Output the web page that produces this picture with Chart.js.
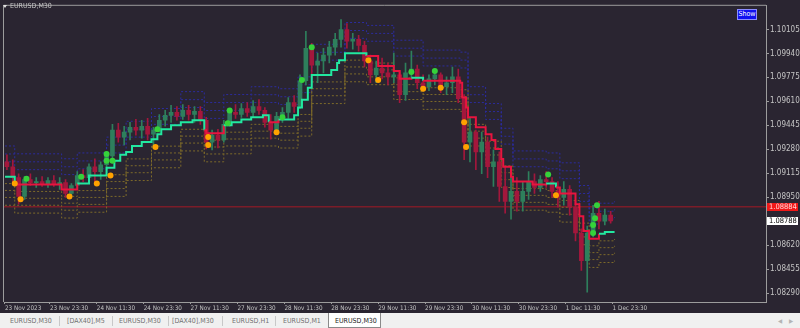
<!DOCTYPE html>
<html>
<head>
<meta charset="utf-8">
<script src="https://cdn.jsdelivr.net/npm/chart.js@4.4.0/dist/chart.umd.min.js"></script>
<style>
  html, body { margin: 0; padding: 0; background: #f0f0f0; }
  #wrap { position: relative; width: 800px; height: 328px; overflow: hidden;
          font-family: 'Liberation Sans Narrow', 'DejaVu Sans Condensed', 'Liberation Sans', sans-serif; }
  #chartBox { position: absolute; left: 0; top: 0; width: 800px; height: 313px; background: #2a2531; }
  #title { position: absolute; left: 10px; top: 2px; color: #c4c4c4; font-size: 7px; line-height: 8px; }
  #tri { position: absolute; left: 3px; top: 5px; width: 0; height: 0;
         border-left: 2.5px solid transparent; border-right: 2.5px solid transparent; border-top: 3px solid #e0e0e0; }
  #showBtn { position: absolute; left: 737px; top: 9px; width: 18px; height: 9px; background: #1010f0;
             border: 1px solid #8c8cff; color: #fff; font-size: 7px; line-height: 9px; text-align: center; }
  #tabs { position: absolute; left: 0; top: 313px; width: 800px; height: 15px; background: #f0f0f0; }
  .tab { position: absolute; top: 4px; font-size: 7px; line-height: 8px; color: #707070; white-space: nowrap; }
  .sep { position: absolute; top: 3px; width: 1px; height: 10px; background: #c8c8c8; }
  #active { position: absolute; left: 328px; top: 0; width: 51px; height: 14px; background: #fff;
            border: 1px solid #8a8a8a; border-top: none; }
  .arr { position: absolute; top: 4px; font-size: 6px; color: #b4b4b4; }
</style>
</head>
<body>
<div id="wrap">
  <div id="chartBox"><canvas id="myChart" width="800" height="313"></canvas></div>
  <div id="tri"></div>
  <div id="title">EURUSD,M30</div>
  <div id="showBtn">Show</div>
  <div id="tabs">
    <div id="active"></div>
    <div class="tab" style="left:10px">EURUSD,M30</div>
    <div class="sep" style="left:59px"></div>
    <div class="tab" style="left:67px">[DAX40],M5</div>
    <div class="sep" style="left:112px"></div>
    <div class="tab" style="left:119px">EURUSD,M30</div>
    <div class="sep" style="left:168px"></div>
    <div class="tab" style="left:172px">[DAX40],M30</div>
    <div class="sep" style="left:222px"></div>
    <div class="tab" style="left:232px">EURUSD,H1</div>
    <div class="sep" style="left:275px"></div>
    <div class="tab" style="left:283px">EURUSD,M1</div>
    <div class="tab" style="left:335px;color:#222">EURUSD,M30</div>
    <div class="arr" style="left:778px">&#9664;</div>
    <div class="arr" style="left:789px">&#9654;</div>
  </div>
</div>
<script>
const FONT = "'Liberation Sans Narrow', 'DejaVu Sans Condensed', 'Liberation Sans', sans-serif";

// x axis: M30 bar index, labels every 24 bars
const xTickBars = [0, 23, 47, 71, 95, 119, 143, 167, 191, 215, 239, 263, 287, 311];
const xTickLabels = ['23 Nov 2023', '23 Nov 23:30', '24 Nov 11:30', '24 Nov 23:30', '27 Nov 11:30',
  '27 Nov 23:30', '28 Nov 11:30', '28 Nov 23:30', '29 Nov 11:30', '29 Nov 23:30', '30 Nov 11:30',
  '30 Nov 23:30', '1 Dec 11:30', '1 Dec 23:30'];
const yTickValues = [1.10105, 1.09940, 1.09775, 1.09610, 1.09445, 1.09280, 1.09115,
  1.08950, 1.08620, 1.08455, 1.08290];

const bidPrice = 1.08884;
const lastPrice = 1.08788;

// candles (one per 3 bars)
const opens = [1.09194,1.09160,1.09085,1.08956,1.09072,1.09051,1.09058,1.09044,1.09065,1.09038,
  1.09051,1.08976,1.09031,1.09099,1.09085,1.09160,1.09126,1.09174,1.09235,1.09412,
  1.09364,1.09398,1.09432,1.09412,1.09439,1.09384,1.09412,1.09480,1.09514,1.09534,
  1.09507,1.09548,1.09520,1.09541,1.09480,1.09330,1.09378,1.09344,1.09452,1.09534,
  1.09520,1.09561,1.09534,1.09575,1.09548,1.09466,1.09412,1.09507,1.09534,1.09602,
  1.09575,1.09752,1.09976,1.09860,1.09888,1.09928,1.09983,1.10037,1.10105,1.10024,
  1.10037,1.09996,1.09888,1.09792,1.09840,1.09806,1.09779,1.09792,1.09656,1.09806,
  1.09833,1.09738,1.09711,1.09765,1.09792,1.09711,1.09738,1.09779,1.09629,1.09330,
  1.09398,1.09262,1.09330,1.09160,1.09194,1.09024,1.08922,1.08990,1.08922,1.08990,
  1.09058,1.09017,1.09072,1.09058,1.08990,1.08949,1.09004,1.08881,1.08704,1.08514,
  1.08704,1.08840,1.08786,1.08827];
const highs = [1.09242,1.09208,1.09112,1.09092,1.09112,1.09085,1.09092,1.09085,1.09099,1.09085,
  1.09072,1.09044,1.09126,1.09140,1.09180,1.09214,1.09194,1.09262,1.09452,1.09459,
  1.09439,1.09466,1.09486,1.09480,1.09493,1.09432,1.09520,1.09548,1.09582,1.09575,
  1.09588,1.09582,1.09575,1.09575,1.09500,1.09412,1.09418,1.09480,1.09561,1.09588,
  1.09595,1.09602,1.09616,1.09622,1.09568,1.09520,1.09534,1.09568,1.09636,1.09650,
  1.09792,1.10092,1.10010,1.09942,1.09976,1.10024,1.10078,1.10173,1.10146,1.10078,
  1.10064,1.10024,1.09928,1.09888,1.09908,1.09874,1.09942,1.09820,1.09874,1.09956,
  1.09860,1.09792,1.09792,1.09833,1.09806,1.09779,1.09847,1.09833,1.09656,1.09500,
  1.09412,1.09398,1.09364,1.09276,1.09262,1.09160,1.09112,1.09085,1.09058,1.09126,
  1.09112,1.09099,1.09126,1.09085,1.09058,1.09058,1.09031,1.08922,1.08732,1.08752,
  1.08895,1.08922,1.08868,1.08854];
const lows = [1.09140,1.09058,1.08902,1.08936,1.09031,1.09017,1.09024,1.09017,1.09024,1.09004,
  1.08949,1.08956,1.09017,1.09058,1.09072,1.09044,1.09072,1.09140,1.09208,1.09330,
  1.09310,1.09344,1.09378,1.09357,1.09344,1.09289,1.09398,1.09439,1.09466,1.09480,
  1.09486,1.09480,1.09466,1.09452,1.09282,1.09276,1.09289,1.09330,1.09439,1.09493,
  1.09500,1.09507,1.09500,1.09520,1.09432,1.09350,1.09384,1.09466,1.09493,1.09534,
  1.09561,1.09724,1.09772,1.09738,1.09806,1.09874,1.09928,1.09983,1.09976,1.09969,
  1.09956,1.09847,1.09738,1.09738,1.09765,1.09724,1.09738,1.09602,1.09616,1.09765,
  1.09697,1.09684,1.09684,1.09724,1.09670,1.09656,1.09670,1.09602,1.09208,1.09194,
  1.09140,1.09112,1.09085,1.09024,1.08922,1.08840,1.08800,1.08854,1.08854,1.08936,
  1.08976,1.08990,1.09017,1.08949,1.08881,1.08895,1.08827,1.08650,1.08446,1.08296,
  1.08677,1.08732,1.08759,1.08772];
const closes = [1.09160,1.09085,1.08956,1.09072,1.09051,1.09058,1.09044,1.09065,1.09038,1.09051,
  1.08976,1.09031,1.09099,1.09085,1.09160,1.09126,1.09174,1.09235,1.09412,1.09364,
  1.09398,1.09432,1.09412,1.09439,1.09384,1.09412,1.09480,1.09514,1.09534,1.09507,
  1.09548,1.09520,1.09541,1.09480,1.09330,1.09378,1.09344,1.09452,1.09534,1.09520,
  1.09561,1.09534,1.09575,1.09548,1.09466,1.09412,1.09507,1.09534,1.09602,1.09575,
  1.09752,1.09976,1.09860,1.09888,1.09928,1.09983,1.10037,1.10105,1.10024,1.10037,
  1.09996,1.09888,1.09792,1.09840,1.09806,1.09779,1.09792,1.09656,1.09806,1.09833,
  1.09738,1.09711,1.09765,1.09792,1.09711,1.09738,1.09779,1.09629,1.09330,1.09398,
  1.09262,1.09330,1.09160,1.09194,1.09024,1.08922,1.08990,1.08922,1.08990,1.09058,
  1.09017,1.09072,1.09058,1.08990,1.08949,1.09004,1.08881,1.08704,1.08514,1.08704,
  1.08840,1.08786,1.08827,1.08788];

// trend stop line (step points), 1 = up (green), 0 = down (red)
const trendBars = [0,5,29,37,43,52,56,59,62,65,70,75,78,80,85,90,96,102,103,112,116,121,126,132,135,
  140,148,150,152,155,157,167,170,171,174,185,191,199,202,208,214,233,234,236,237,241,246,249,251,254,
  255,259,260,270,277,282,284,292,294,296,299,304,307,312];
const trendVals = [1.09092,1.09038,1.09004,1.09044,1.09099,1.09153,1.09201,1.09242,1.09262,1.09303,
  1.09330,1.09350,1.09384,1.09418,1.09446,1.09466,1.09480,1.09412,1.09391,1.09446,
  1.09466,1.09486,1.09500,1.09514,1.09466,1.09486,1.09514,1.09568,1.09622,1.09704,
  1.09792,1.09826,1.09874,1.09894,1.09942,1.09922,1.09854,1.09820,1.09765,1.09772,
  1.09752,1.09738,1.09636,1.09568,1.09500,1.09432,1.09384,1.09344,1.09282,1.09214,
  1.09160,1.09092,1.09058,1.09038,1.09044,1.09017,1.08976,1.08902,1.08820,1.08718,
  1.08664,1.08698,1.08711,1.08711];
const trendUp = [1,0,0,1,1,1,1,1,1,1,1,1,1,1,1,1,1,0,0,1,1,1,1,1,0,1,1,1,1,1,1,1,1,1,1,
  0,0,0,0,1,0,0,0,0,0,0,0,0,0,0,0,0,0,0,1,0,0,0,0,0,0,1,1,1];

// dotted bands
const bandBars = [0,5,29,37,52,62,75,90,102,112,126,140,150,157,174,185,199,214,233,237,246,254,260,277,284,294,299,304,312];
const lower1 = [1.09044,1.08990,1.08956,1.08996,1.09105,1.09214,1.09302,1.09418,1.09343,1.09398,1.09452,1.09438,1.09520,1.09744,1.09894,
  1.09874,1.09772,1.09704,1.09690,1.09452,1.09336,1.09166,1.09010,1.08996,1.08928,1.08772,1.08616,1.08650,1.08663];
const lower2 = [1.08997,1.08943,1.08909,1.08949,1.09058,1.09167,1.09255,1.09371,1.09296,1.09351,1.09405,1.09391,1.09473,1.09697,1.09847,
  1.09827,1.09725,1.09657,1.09643,1.09405,1.09289,1.09119,1.08963,1.08949,1.08881,1.08725,1.08569,1.08603,1.08616];
const lower3 = [1.08949,1.08895,1.08861,1.08901,1.09010,1.09119,1.09207,1.09323,1.09248,1.09303,1.09357,1.09343,1.09425,1.09649,1.09799,
  1.09779,1.09677,1.09609,1.09595,1.09357,1.09241,1.09071,1.08915,1.08901,1.08833,1.08677,1.08521,1.08555,1.08568];
const lower4 = [1.08895,1.08841,1.08807,1.08847,1.08956,1.09065,1.09153,1.09269,1.09194,1.09249,1.09303,1.09289,1.09371,1.09595,1.09745,
  1.09725,1.09623,1.09555,1.09541,1.09303,1.09187,1.09017,1.08861,1.08847,1.08779,1.08623,1.08467,1.08501,1.08514];
const upper1 = [1.09194,1.09140,1.09106,1.09146,1.09255,1.09364,1.09452,1.09568,1.09493,1.09548,1.09602,1.09588,1.09670,1.09894,1.10044,
  1.10024,1.09922,1.09854,1.09840,1.09602,1.09486,1.09316,1.09160,1.09146,1.09078,1.08922,1.08766,1.08800,1.08813];
const upper2 = [1.09248,1.09194,1.09160,1.09200,1.09309,1.09418,1.09506,1.09622,1.09547,1.09602,1.09656,1.09642,1.09724,1.09948,1.10098,
  1.10078,1.09976,1.09908,1.09894,1.09656,1.09540,1.09370,1.09214,1.09200,1.09132,1.08976,1.08820,1.08854,1.08867];
const upper3 = [1.09303,1.09249,1.09215,1.09255,1.09364,1.09473,1.09561,1.09677,1.09602,1.09657,1.09711,1.09697,1.09779,1.10003,1.10153,
  1.10133,1.10031,1.09963,1.09949,1.09711,1.09595,1.09425,1.09269,1.09255,1.09187,1.09031,1.08875,1.08909,1.08922];

// signal dots
const upDotBars = [11,39,52,52,55,78,114,115,142,152,157,208,220,278,301,301,302,303];
const upDotVals = [1.09078,1.09092,1.09248,1.09201,1.09201,1.09418,1.09459,1.09548,1.09500,1.09758,
  1.09983,1.09813,1.09820,1.09106,1.08704,1.08759,1.08806,1.08895];
const downDotBars = [5,8,33,47,54,77,104,104,139,186,191,214,223,235,236,282];
const downDotVals = [1.09044,1.08936,1.08956,1.09044,1.09099,1.09296,1.09364,1.09310,1.09398,
  1.09894,1.09758,1.09697,1.09704,1.09466,1.09296,1.08963];

const BULL = '#2e7f5c';
const BEAR = '#a3173c';
const candleX = closes.map((c, i) => 3 * i + 1);
const candleColors = closes.map((c, i) => c >= opens[i] ? BULL : BEAR);

const pts = (xs, ys) => xs.map((x, i) => ({ x: x, y: ys[i] }));

const bandSet = (vals, color) => ({
  type: 'line', data: pts(bandBars, vals), stepped: true, borderColor: color,
  borderWidth: 1, borderDash: [2, 2], pointRadius: 0, fill: false, order: 8
});

const framePlugin = {
  id: 'frame',
  afterDraw(chart) {
    const { ctx, chartArea: a, scales } = chart;
    ctx.save();
    ctx.strokeStyle = '#9c9c9c';
    ctx.lineWidth = 1;
    ctx.beginPath();
    ctx.moveTo(a.left - 0.5, a.bottom);
    ctx.lineTo(a.left - 0.5, a.top - 0.5);
    ctx.lineTo(a.right, a.top - 0.5);
    ctx.stroke();
    // price tags on the axis
    const tags = [
      { v: bidPrice, bg: '#f01818', fg: '#ffd6d6' },
      { v: lastPrice, bg: '#ffffff', fg: '#000000' }
    ];
    ctx.font = '7.5px ' + FONT;
    ctx.textBaseline = 'middle';
    tags.forEach(t => {
      const y = Math.round(scales.y.getPixelForValue(t.v));
      ctx.fillStyle = t.bg;
      ctx.fillRect(a.right + 1, y - 4, 31, 8);
      ctx.fillStyle = t.fg;
      ctx.fillText(t.v.toFixed(5), a.right + 3, y + 0.5);
    });
    ctx.restore();
  }
};

new Chart(document.getElementById('myChart'), {
  type: 'bar',
  data: {
    datasets: [
      { type: 'line', data: [{ x: -0.5, y: bidPrice }, { x: 389.5, y: bidPrice }],
        borderColor: '#7b1c28', borderWidth: 1.5, pointRadius: 0, order: 9 },
      bandSet(lower1, '#7d6a2a'),
      bandSet(lower2, '#7d6a2a'),
      bandSet(lower3, '#7d6a2a'),
      bandSet(lower4, '#7d6a2a'),
      bandSet(upper1, '#2c2c9c'),
      bandSet(upper2, '#2c2c9c'),
      bandSet(upper3, '#2c2c9c'),
      { data: candleX.map((x, i) => ({ x: x, y: [lows[i], highs[i]] })),
        backgroundColor: candleColors, barThickness: 1, grouped: false, order: 6 },
      { data: candleX.map((x, i) => ({ x: x, y: [opens[i], closes[i]] })),
        backgroundColor: candleColors, barThickness: 4, grouped: false, order: 5 },
      { type: 'line', data: pts(trendBars, trendVals), stepped: true, borderWidth: 2,
        borderColor: '#22e8a0', pointRadius: 0, fill: false, order: 2,
        segment: { borderColor: c => trendUp[c.p0DataIndex] ? '#22e8a0' : '#e8143f' } },
      { type: 'line', data: pts(upDotBars, upDotVals), showLine: false, pointRadius: 3,
        pointBackgroundColor: '#35d23a', pointBorderWidth: 0, order: 1 },
      { type: 'line', data: pts(downDotBars, downDotVals), showLine: false, pointRadius: 3,
        pointBackgroundColor: '#ffa200', pointBorderWidth: 0, order: 1 }
    ]
  },
  options: {
    responsive: false,
    animation: false,
    devicePixelRatio: 1,
    layout: { padding: { left: 2, top: 2, right: 0, bottom: 0 } },
    plugins: { legend: { display: false }, tooltip: { enabled: false } },
    scales: {
      x: {
        type: 'linear', min: -0.5, max: 389.5, offset: false,
        afterBuildTicks: s => { s.ticks = xTickBars.map(v => ({ value: v })); },
        afterFit: s => { s.height = 11; },
        grid: { display: true, drawOnChartArea: false, drawTicks: true, tickLength: 2, color: '#9c9c9c', offset: false },
        border: { display: true, color: '#9c9c9c' },
        ticks: { autoSkip: false, maxRotation: 0, align: 'start', padding: 1, color: '#c4c4c4',
                 font: { family: FONT, size: 6.3 }, callback: (v, i) => xTickLabels[i] }
      },
      y: {
        position: 'right', min: 1.08229, max: 1.10268,
        afterBuildTicks: s => { s.ticks = yTickValues.map(v => ({ value: v })); },
        afterFit: s => { s.width = 34; },
        grid: { drawOnChartArea: false, tickLength: 3, color: '#9c9c9c' },
        border: { color: '#9c9c9c' },
        ticks: { autoSkip: false, padding: 1, color: '#c4c4c4',
                 font: { family: FONT, size: 8 }, callback: v => v.toFixed(5) }
      }
    }
  },
  plugins: [framePlugin]
});
</script>
</body>
</html>
